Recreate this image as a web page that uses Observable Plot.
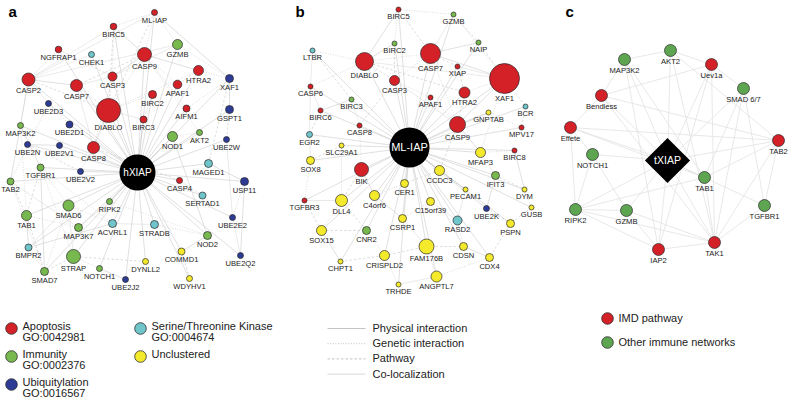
<!DOCTYPE html>
<html><head><meta charset="utf-8">
<script src="https://cdn.jsdelivr.net/npm/d3@7"></script>
<script src="https://cdn.jsdelivr.net/npm/@observablehq/plot@0.6"></script>
<style>body{margin:0;background:#fff} svg{display:block}</style>
</head><body><div id="chart"></div>
<script>
// ---------- Panel a : hXIAP network ----------
const aNames = ["ML-IAP","BIRC5","NGFRAP1","CHEK1","CASP9","GZMB","HTRA2","XAF1","CASP2","CASP7","CASP3","APAF1","BIRC2","UBE2D3","DIABLO","AIFM1","GSPT1","MAP3K2","UBE2D1","BIRC3","AKT2","NOD1","UBE2W","UBE2N","UBE2V1","CASP8","hXIAP","MAGED1","UBE2V2","TGFBR1","TAB2","CASP4","USP11","SERTAD1","RIPK2","SMAD6","TAB1","UBE2E2","ACVRL1","STRADB","MAP3K7","NOD2","BMPR2","STRAP","COMMD1","UBE2Q2","DYNLL2","NOTCH1","SMAD7","UBE2J2","WDYHV1"];
const aX = [154,113,58,91,144,177,198,229,28,76,112,177,152,48,108,186,229,20,69,143,199,172,226,27,59,93,137,208,80,40,10,179,244,202,109,68,26,232,112,154,78,207,28,73,181,240,145,99,44,125,189];
const aY = [12,26,49,54,54,44,70,78,79,85,76,84,94,103,110,108,109,125,124,119,132,136,139,144,145,147,172,163,171,167,181,180,181,195,201,205,215,217,223,224,227,235,247,256,251,255,261,268,271,279,278];
const aSize = [3,3.3,3.3,3,7,5,5,4,6.5,6,4.5,4.3,4,3,12,3.5,4,3,3.5,3.5,3,5,3,3,3,6,18,4,3,3.5,3.5,3,4,3.5,3,5.5,5,3,4,4,4,4,3.5,7,3.5,3,3,3,4,3,3];
const aGroup = ["A","A","A","S","A","I","A","U","A","A","A","A","A","U","A","A","U","I","U","A","I","I","U","U","U","A","H","S","U","I","I","A","U","S","I","I","I","U","S","S","I","I","S","I","Y","U","Y","I","I","U","Y"];
const aLinks = [["ML-IAP","CASP9"],["ML-IAP","XAF1"],["ML-IAP","DIABLO"],["ML-IAP","GZMB"],["ML-IAP","CASP2"],["ML-IAP","BIRC5"],["BIRC5","CASP9"],["BIRC5","DIABLO"],["BIRC5","CASP3"],["BIRC5","CASP2"],["CASP9","APAF1"],["CASP9","CASP3"],["CASP9","CASP7"],["CASP9","DIABLO"],["CASP3","CASP7"],["CASP3","DIABLO"],["CASP2","CASP7"],["CASP2","DIABLO"],["CASP2","NGFRAP1"],["CASP2","UBE2D3"],["CASP2","MAP3K2"],["CASP2","TAB2"],["CASP7","DIABLO"],["DIABLO","BIRC2"],["DIABLO","BIRC3"],["DIABLO","HTRA2"],["DIABLO","CASP8"],["HTRA2","APAF1"],["HTRA2","XAF1"],["GZMB","CASP3"],["GZMB","XAF1"],["XAF1","GSPT1"],["GSPT1","UBE2W"],["AIFM1","CASP9"],["NOD1","RIPK2"],["NOD2","RIPK2"],["NOD1","NOD2"],["TAB1","TAB2"],["TAB1","MAP3K7"],["TAB2","MAP3K7"],["TGFBR1","SMAD6"],["TGFBR1","SMAD7"],["TGFBR1","TAB1"],["SMAD6","SMAD7"],["SMAD6","BMPR2"],["BMPR2","SMAD7"],["BMPR2","ACVRL1"],["STRAP","SMAD7"],["STRAP","TGFBR1"],["STRAP","SMAD6"],["STRAP","NOTCH1"],["UBE2N","UBE2V1"],["UBE2N","UBE2V2"],["UBE2D1","UBE2D3"],["UBE2E2","UBE2Q2"],["USP11","UBE2E2"],["MAGED1","USP11"],["CASP4","CASP8"],["CASP8","CASP3"],["CASP8","CASP7"],["CASP8","UBE2V2"],["COMMD1","NOD2"],["WDYHV1","COMMD1"],["STRADB","NOD2"],["STRADB","ACVRL1"],["ACVRL1","SMAD6"],["UBE2J2","NOTCH1"],["DYNLL2","STRAP"],["AKT2","CASP9"],["GZMB","CASP2"],["UBE2D3","TAB2"],["MAP3K2","TGFBR1"],["NGFRAP1","CASP3"],["CHEK1","CASP2"],["SERTAD1","CASP4"],["TAB2","SMAD7"],["TAB1","BMPR2"],["TAB1","SMAD7"],["MAP3K2","TAB1"],["UBE2W","UBE2E2"],["XAF1","AIFM1"],["CASP9","HTRA2"],["BIRC2","BIRC3"],["NOD1","AKT2"],["RIPK2","MAP3K7"],["ACVRL1","TGFBR1"],["UBE2Q2","USP11"],["MAGED1","XAF1"]];
const aLinkType = aLinks.map((_, i) => ["g","p","d","g","c"][i % 5]);

// ---------- Panel b : ML-IAP network ----------
const bNames = ["BIRC5","GZMB","BIRC2","NAIP","LTBR","DIABLO","CASP7","XIAP","XAF1","CASP6","CASP3","HTRA2","APAF1","BIRC3","BCR","BIRC6","GNPTAB","CASP9","MPV17","CASP8","EGR2","ML-IAP","SLC29A1","SOX8","BIK","MFAP3","BIRC8","CCDC3","IFIT3","CER1","PECAM1","DYM","TGFBR3","DLL4","C4orf6","C15orf39","GUSB","UBE2K","CSRP1","RASD2","PSPN","SOX15","CNR2","FAM176B","CDSN","CDX4","CHPT1","CRISPLD2","ANGPTL7","TRHDE"];
const bX = [398,453,394,478,312,364,430,457,504,310,394,464,430,351,525,320,488,457,521,359,309,409,341,310,361,480,514,439,495,404,465,524,304,341,374,430,531,486,402,457,510,321,366,426,463,489,340,384,436,398];
const bY = [9,14,43,42,50,61,53,66,78,86,80,92,97,99,106,110,112,124,127,125,134,147,145,160,169,152,150,170,175,183,189,189,200,200,195,201,207,208,218,220,223,230,230,246,246,257,261,255,276,284];
const bSize = [2.5,2.5,2.5,2.5,2.5,9,10,2.5,15,2.5,5,5.5,2.5,2.5,2.5,2.5,2.5,8,2.5,2.5,3,20,2.5,4,7,5,2.5,5,4,4,2.5,2.5,2.5,6,5,4,2.5,3,4,4.5,4,5,4,7.5,4,4,2.5,5,5.5,2.5];
const bGroup = ["A","I","I","I","S","A","A","A","A","A","A","A","A","I","S","A","Y","A","A","A","S","H","Y","Y","A","Y","A","Y","I","Y","Y","Y","A","Y","Y","Y","Y","U","Y","S","Y","Y","I","Y","Y","Y","Y","Y","Y","Y"];
const bLinks = [["BIRC5","GZMB"],["BIRC5","CASP7"],["BIRC5","DIABLO"],["BIRC5","BIRC2"],["GZMB","CASP7"],["GZMB","NAIP"],["GZMB","XAF1"],["NAIP","XAF1"],["NAIP","CASP7"],["LTBR","DIABLO"],["LTBR","CASP6"],["LTBR","BIRC3"],["DIABLO","CASP7"],["DIABLO","CASP3"],["DIABLO","BIRC2"],["DIABLO","CASP6"],["DIABLO","XAF1"],["DIABLO","HTRA2"],["CASP7","CASP3"],["CASP7","XIAP"],["CASP7","XAF1"],["CASP7","CASP9"],["XIAP","XAF1"],["XIAP","HTRA2"],["XAF1","HTRA2"],["XAF1","BCR"],["XAF1","CASP9"],["CASP3","APAF1"],["CASP3","CASP9"],["CASP3","CASP8"],["APAF1","CASP9"],["HTRA2","CASP9"],["BIRC3","BIRC6"],["BIRC3","CASP8"],["BIRC6","CASP6"],["BIRC6","EGR2"],["GNPTAB","MPV17"],["BCR","MPV17"],["CASP9","MFAP3"],["CASP8","BIK"],["EGR2","SOX8"],["SOX8","SLC29A1"],["SOX8","TGFBR3"],["BIK","DLL4"],["BIK","C4orf6"],["MFAP3","BIRC8"],["MFAP3","IFIT3"],["CCDC3","CER1"],["CCDC3","PECAM1"],["IFIT3","DYM"],["IFIT3","UBE2K"],["DYM","GUSB"],["PECAM1","RASD2"],["TGFBR3","SOX15"],["DLL4","SOX15"],["DLL4","CNR2"],["C4orf6","CSRP1"],["C15orf39","CSRP1"],["C15orf39","RASD2"],["UBE2K","PSPN"],["RASD2","CDSN"],["PSPN","CDX4"],["SOX15","CHPT1"],["CNR2","CRISPLD2"],["CSRP1","FAM176B"],["FAM176B","CDSN"],["FAM176B","ANGPTL7"],["FAM176B","CRISPLD2"],["CDSN","CDX4"],["CRISPLD2","TRHDE"],["ANGPTL7","TRHDE"],["CHPT1","CRISPLD2"],["CER1","C4orf6"],["GUSB","PSPN"],["BIRC8","DYM"],["SLC29A1","DLL4"],["CASP6","EGR2"],["BIRC2","CASP3"],["XAF1","MFAP3"],["CASP9","CCDC3"],["CASP9","GNPTAB"],["CDX4","ANGPTL7"],["TGFBR3","DLL4"],["SOX15","CNR2"]];
const bLinkType = bLinks.map((_, i) => ["g","d","p","g","c","d"][i % 6]);

// ---------- Panel c : tXIAP network ----------
const cNames = ["AKT2","MAP3K2","Uev1a","SMAD 6/7","Bendless","Effete","TAB2","NOTCH1","tXIAP","TAB1","RIPK2","GZMB","TGFBR1","IAP2","TAK1"];
const cX = [670,624,711,743,601,570,778,592,667,704,575,626,764,658,714];
const cY = [50,59,64,88,95,127,140,154,160,177,209,210,205,249,242];
const cGroup = ["O","O","M","O","M","M","M","O","H","O","O","O","O","M","M"];
const cLinks = [["AKT2","MAP3K2"],["AKT2","Uev1a"],["AKT2","TAB2"],["MAP3K2","Bendless"],["MAP3K2","TAB1"],["Uev1a","TAK1"],["Uev1a","Bendless"],["Uev1a","IAP2"],["SMAD 6/7","TGFBR1"],["SMAD 6/7","TAB1"],["SMAD 6/7","TAK1"],["Bendless","TAB2"],["Bendless","Effete"],["Bendless","TAK1"],["Effete","TAB2"],["Effete","NOTCH1"],["Effete","RIPK2"],["NOTCH1","RIPK2"],["NOTCH1","GZMB"],["RIPK2","GZMB"],["RIPK2","IAP2"],["GZMB","IAP2"],["GZMB","TAK1"],["TAB1","TAK1"],["TAB1","TAB2"],["TAB1","RIPK2"],["TAB2","TAK1"],["TGFBR1","TAK1"],["TGFBR1","TAB2"],["IAP2","TAK1"],["TAK1","RIPK2"],["Uev1a","SMAD 6/7"],["MAP3K2","IAP2"],["AKT2","TAK1"],["Effete","TAB1"]];

// ---------- Legends ----------
const aLegendGroups = ["A","I","U","S","Y"];
const aLegendLabels = ["Apoptosis\nGO:0042981","Immunity\nGO:0002376","Ubiquitylation\nGO:0016567","Serine/Threonine Kinase\nGO:0004674","Unclustered"];
const bLegendTypes = ["p","g","d","c"];
const bLegendLabels = ["Physical interaction","Genetic interaction","Pathway","Co-localization"];
const cLegendGroups = ["M","O"];
const cLegendLabels = ["IMD pathway","Other immune networks"];
const panelLetters = ["a","b","c"];

// ---------- build tables ----------
const mk = (names, xs, ys, sizes, groups) => names.map((n, i) => ({name: n, x: xs[i], y: ys[i], r: sizes ? sizes[i] : 6, g: groups[i]}));
const aNodes = mk(aNames, aX, aY, aSize, aGroup);
const bNodes = mk(bNames, bX, bY, bSize, bGroup);
const cNodes = mk(cNames, cX, cY, null, cGroup);
const idx = nodes => new Map(nodes.map(d => [d.name, d]));
const edgeTable = (nodes, pairs, types, hub, panel) => {
  const m = idx(nodes);
  const hubEdges = nodes.filter(d => d.name !== hub).map(d => [hub, d.name]);
  const all = hubEdges.map(p => [...p, "p"]).concat(pairs.map((p, i) => [...p, types ? types[i] : "p"]));
  return all.map(([s, t, ty]) => ({x1: m.get(s).x, y1: m.get(s).y, x2: m.get(t).x, y2: m.get(t).y, type: ty, panel}));
};
const edges = [
  ...edgeTable(aNodes, aLinks, aLinkType, "hXIAP", "ab"),
  ...edgeTable(bNodes, bLinks, bLinkType, "ML-IAP", "ab"),
  ...edgeTable(cNodes, cLinks, null, "tXIAP", "c")
];
const circleNodes = [...aNodes, ...bNodes, ...cNodes].filter(d => d.g !== "H");
const hubs = [...aNodes, ...bNodes].filter(d => d.g === "H");
const diamondHub = cNodes.filter(d => d.g === "H");

const groupDomain = ["A","I","U","S","Y","M","O"];
const groupRange = ["#d42027","#78b94f","#2d3b94","#6fc5c9","#f4ea2b","#d42027","#5ea552"];

const dash = {p: null, g: "1,1.6", d: "2.5,2", c: null};
const strokeOf = {p: "#cbcbcb", g: "#c6c6c6", d: "#c6c6c6", c: "#dcdcdc"};
const edgeMarks = ["c","g","d","p"].map(t => Plot.link(edges.filter(e => e.type === t && e.panel === "ab"), {
  x1: "x1", y1: "y1", x2: "x2", y2: "y2",
  stroke: strokeOf[t], strokeWidth: 0.6, strokeDasharray: dash[t]
}));
edgeMarks.push(Plot.link(edges.filter(e => e.panel === "c"), {x1: "x1", y1: "y1", x2: "x2", y2: "y2", stroke: "#e2e2e2", strokeWidth: 0.8}));

const aLeg = aLegendGroups.map((g, i) => ({g, label: aLegendLabels[i], x: i < 3 ? 11 : 140, y: i < 3 ? 328 + i * 28 : 328 + (i - 3) * 28}));
const bLeg = bLegendTypes.map((t, i) => ({t, label: bLegendLabels[i], y: 328 + i * 15.2}));
const cLeg = cLegendGroups.map((g, i) => ({g, label: cLegendLabels[i], y: 318 + i * 24}));
const letters = panelLetters.map((l, i) => ({l, x: [8, 295, 565][i]}));

const font = "'Liberation Sans', Arial, Helvetica, sans-serif";

const chart = Plot.plot({
  width: 788, height: 402, margin: 0,
  x: {domain: [0, 788], range: [0, 788], axis: null},
  y: {domain: [0, 402], range: [0, 402], axis: null},
  r: {type: "identity"},
  color: {type: "ordinal", domain: groupDomain, range: groupRange},
  style: {fontFamily: font, background: "#fff"},
  marks: [
    ...edgeMarks,
    Plot.dot(circleNodes, {x: "x", y: "y", r: "r", fill: "g", stroke: "#2a2a2a", strokeWidth: 0.7}),
    Plot.dot(hubs, {x: "x", y: "y", r: "r", fill: "#000"}),
    Plot.dot(diamondHub, {x: "x", y: "y", r: 18, symbol: "square", rotate: 45, fill: "#000"}),
    Plot.text(circleNodes, {x: "x", y: d => d.y + d.r + 4.8, text: "name", fontSize: 7.6, fill: "#222"}),
    Plot.text(hubs, {x: "x", y: "y", text: "name", fontSize: d => d.r > 19 ? 11 : 10, fill: "#fff"}),
    Plot.text(diamondHub, {x: "x", y: "y", text: "name", fontSize: 10.5, fill: "#fff"}),
    // panel letters
    Plot.text(letters, {x: "x", y: 12, text: "l", fontSize: 15, fontWeight: "bold", textAnchor: "start", fill: "#000"}),
    // legend a
    Plot.dot(aLeg, {x: "x", y: "y", r: 5.8, fill: "g", stroke: "#2a2a2a", strokeWidth: 0.8}),
    Plot.text(aLeg, {x: d => d.x + 11, y: d => d.y - 6, text: "label", fontSize: 11, textAnchor: "start", lineAnchor: "top", lineHeight: 1.0, fill: "#222"}),
    // legend b
    ...bLegendTypes.map(t => Plot.link(bLeg.filter(d => d.t === t), {x1: 327, x2: 365, y1: "y", y2: "y", stroke: t === "c" ? "#cfcfcf" : "#b5b5b5", strokeWidth: 0.8, strokeDasharray: dash[t]})),
    Plot.text(bLeg, {x: 372, y: "y", text: "label", fontSize: 11, textAnchor: "start", fill: "#222"}),
    // legend c
    Plot.dot(cLeg, {x: 607, y: "y", r: 5.8, fill: "g", stroke: "#2a2a2a", strokeWidth: 0.8}),
    Plot.text(cLeg, {x: 618, y: "y", text: "label", fontSize: 11, textAnchor: "start", fill: "#222"})
  ]
});
document.getElementById("chart").appendChild(chart);
</script>
</body></html>
